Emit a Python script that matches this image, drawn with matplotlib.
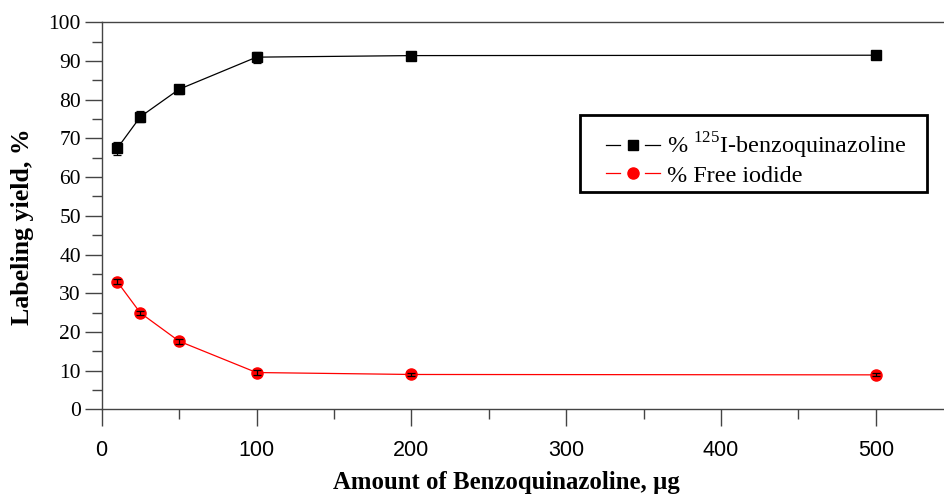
import numpy as np
from matplotlib import pyplot as plt
from matplotlib.ticker import MultipleLocator
from matplotlib.lines import Line2D
from matplotlib.patches import Rectangle
from matplotlib.legend_handler import HandlerBase

plt.rcParams['mathtext.fontset'] = 'custom'
plt.rcParams['mathtext.rm'] = 'Liberation Serif'

amount = [10, 25, 50, 100, 200, 500]  # ug
labeled = [67.4, 75.6, 82.7, 91.0, 91.4, 91.5]
labeled_err = [1.6, 1.4, 1.2, 1.4, 1.0, 1.0]
free_iodide = [33.0, 24.9, 17.6, 9.5, 9.0, 8.9]
free_err = [0.6, 0.6, 0.6, 0.6, 0.4, 0.4]


# legend entry drawn like Origin: "— ■ —" with gaps round the marker
class GapHandler(HandlerBase):
    def create_artists(self, legend, orig_handle, xdescent, ydescent,
                       width, height, fontsize, trans):
        y = height / 2 - ydescent
        x0 = -xdescent + 1.07 * fontsize
        x1 = -xdescent + width
        xm = (x0 + x1) / 2
        g = 0.52 * fontsize
        c = orig_handle.get_color()
        lw = orig_handle.get_linewidth()
        l1 = Line2D([x0, xm - g], [y, y], color=c, lw=lw)
        l2 = Line2D([xm + g, x1], [y, y], color=c, lw=lw)
        m = Line2D([xm], [y], color=c, marker=orig_handle.get_marker(),
                   ms=orig_handle.get_markersize(), ls='none')
        for a in (l1, l2, m):
            a.set_transform(trans)
        return [l1, l2, m]


fig = plt.figure(figsize=(9.44, 4.96), dpi=100)
ax = fig.add_axes([0.1077, 0.1748, 0.8923, 0.7802])

ax.errorbar(amount, labeled, yerr=labeled_err, color='black', marker='s', ms=7,
            lw=0.9, capsize=3, elinewidth=0.9, capthick=0.9)
ax.plot(amount, free_iodide, color='red', marker='o', ms=8, lw=0.9)
ax.errorbar(amount, free_iodide, yerr=free_err, fmt='none', ecolor='black',
            capsize=3, elinewidth=0.9, capthick=0.9)

ax.set_xlim(0, 544)
ax.set_ylim(0, 100)
ax.xaxis.set_major_locator(MultipleLocator(100))
ax.xaxis.set_minor_locator(MultipleLocator(50))
ax.yaxis.set_major_locator(MultipleLocator(10))
ax.yaxis.set_minor_locator(MultipleLocator(5))
ax.tick_params(which='major', direction='out', length=12, width=1, color='#444')
ax.tick_params(which='minor', direction='out', length=7, width=1, color='#444')
ax.tick_params(axis='x', labelsize=15.5, pad=10)
ax.tick_params(axis='y', labelsize=15.5, pad=3)
for lab in ax.get_xticklabels():
    lab.set_fontfamily('Liberation Sans')
for lab in ax.get_yticklabels():
    lab.set_fontfamily('Liberation Serif')

ax.spines['right'].set_visible(False)
for s in ['left', 'bottom', 'top']:
    ax.spines[s].set_color('#444')
    ax.spines[s].set_linewidth(1)

fig.text(506 / 944, 1 - 483 / 496, 'Amount of Benzoquinazoline, µg',
         family='Liberation Serif', weight='bold', fontsize=17.8,
         ha='center', va='center')
fig.text(23 / 944, 1 - 227 / 496, 'Labeling yield, %', rotation=90,
         family='Liberation Serif', weight='bold', fontsize=18.6,
         ha='center', va='center')

handles = [Line2D([], [], color='black', marker='s', ms=7, lw=0.9),
           Line2D([], [], color='red', marker='o', ms=8, lw=0.9)]
labels = [r'% $^{125}$I-benzoquinazoline', '% Free iodide']
leg = ax.legend(handles, labels, loc='center left',
                bbox_to_anchor=(580 / 944, 1 - 159 / 496),
                bbox_transform=fig.transFigure,
                prop={'family': 'Liberation Serif', 'size': 17.4},
                handler_map={Line2D: GapHandler()}, frameon=False,
                handlelength=3.3, borderpad=0, labelspacing=0.15,
                handletextpad=0.3, borderaxespad=0)
fig.add_artist(Rectangle((580 / 944, 1 - 192 / 496), 347 / 944, 77 / 496,
                         transform=fig.transFigure, fill=False, lw=2,
                         ec='black'))

fig.savefig('out.png', dpi=100)
